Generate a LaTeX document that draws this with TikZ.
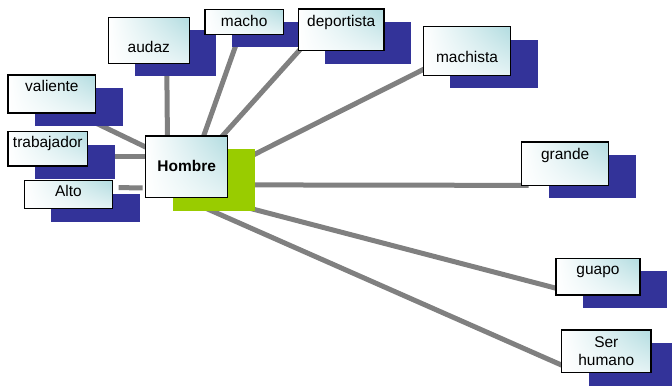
\documentclass[tikz,border=0pt]{standalone}
\usepackage{fontspec}
\setmainfont{Liberation Sans}
\usetikzlibrary{calc}
\usetikzlibrary{shadings}
\definecolor{shadowblue}{HTML}{333399}
\definecolor{hubgreen}{HTML}{99CC00}
\definecolor{linkgray}{HTML}{808080}
\definecolor{boxcyan}{HTML}{B2DCE0}
\pgfdeclarelayer{links}
\pgfdeclarelayer{shadows}
\pgfsetlayers{links,shadows,main}
\tikzset{
   wordbox/.style={draw=black, line width=0.9pt, inner sep=0pt, outer sep=0pt,
      upper left=white, lower left=white, upper right=boxcyan,
      lower right=boxcyan!35, align=center,
      font=\fontsize{11.6}{14}\selectfont},
   word/.style n args={3}{wordbox, minimum width=#1, text height=#2, text depth=#3},
   link/.style={draw=linkgray, line width=3.75pt},
   blueshadow/.style={fill=shadowblue},
   greenshadow/.style={fill=hubgreen},
    }

\begin{document}
\begin{tikzpicture}[x=0.75pt, y=-0.75pt]
  \clip (0,0) rectangle (672,387);
  % hub and words
  \node[word={61.5pt}{26.8pt}{19.5pt}, font=\fontsize{11.6}{14}\selectfont\bfseries]
      (hombre) at (186.7,166.8) {Hombre};
  \node[word={65.8pt}{12pt}{16.5pt}] (valiente) at (51.9,94) {valiente};
  \node[word={59.8pt}{12pt}{13.7pt}] (trabajador) at (47.8,148.8) {trabajador};
  \node[word={66.3pt}{12pt}{9pt}] (alto) at (68.5,194.7) {Alto};
  \node[word={60.8pt}{26.5pt}{8pt}] (audaz) at (148.8,40.3) {audaz};
  \node[word={58.7pt}{12.5pt}{6.2pt}] (macho) at (244.2,21.8) {macho};
  \node[word={64.3pt}{12.8pt}{18.5pt}] (deportista) at (341.2,29.8) {deportista};
  \node[word={65.6pt}{26.7pt}{9.7pt}] (machista) at (467,51) {machista};
  \node[word={65.3pt}{13pt}{19.5pt}] (grande) at (565.2,163.7) {grande};
  \node[word={63pt}{12pt}{15.5pt}] (guapo) at (598,276.7) {guapo};
  \node[word={67pt}{27pt}{5pt}] (serhumano) at (606.3,351.3) {Ser\\humano};

  \begin{pgfonlayer}{shadows}
    \fill[greenshadow] ([shift={(27,13)}]hombre.south west)
      rectangle ([shift={(27,13)}]hombre.north east);
    \foreach \w in {valiente,trabajador,alto,audaz,macho,deportista,
                    machista,grande,guapo,serhumano}
      \fill[blueshadow] ([shift={(27,13)}]\w.south west)
        rectangle ([shift={(27,13)}]\w.north east);
  \end{pgfonlayer}

  \begin{pgfonlayer}{links}
    \draw[link] (hombre.center) -- ([shift={(0,10)}]valiente.south east);
    \draw[link] ([shift={(0,-10)}]hombre.center) -- ([shift={(10,8)}]trabajador.east);
    \draw[link] ([shift={(-3,21)}]hombre.west) -- ([shift={(6,-7)}]alto.east);
    \draw[link] ([shift={(-19,0)}]hombre.center) -- ([shift={(18,5)}]audaz.south);
    \draw[link] ([shift={(6,0)}]hombre.center) -- ([shift={(-8,10)}]macho.south);
    \draw[link] ([shift={(8,0)}]hombre.center) -- ([shift={(7,-7)}]deportista.south west);
    \draw[link] ([shift={(43,0)}]hombre.center) -- ([shift={(7,15)}]machista.west);
    \draw[link] ([shift={(0,18)}]hombre.center) -- ([shift={(7,0)}]grande.south west);
    \draw[link] ([shift={(0,25)}]hombre.center) -- ([shift={(7,-5)}]guapo.south west);
    \draw[link] ([shift={(0,33)}]hombre.center) -- ([shift={(8,-4)}]serhumano.south west);
  \end{pgfonlayer}
\end{tikzpicture}
\end{document}
